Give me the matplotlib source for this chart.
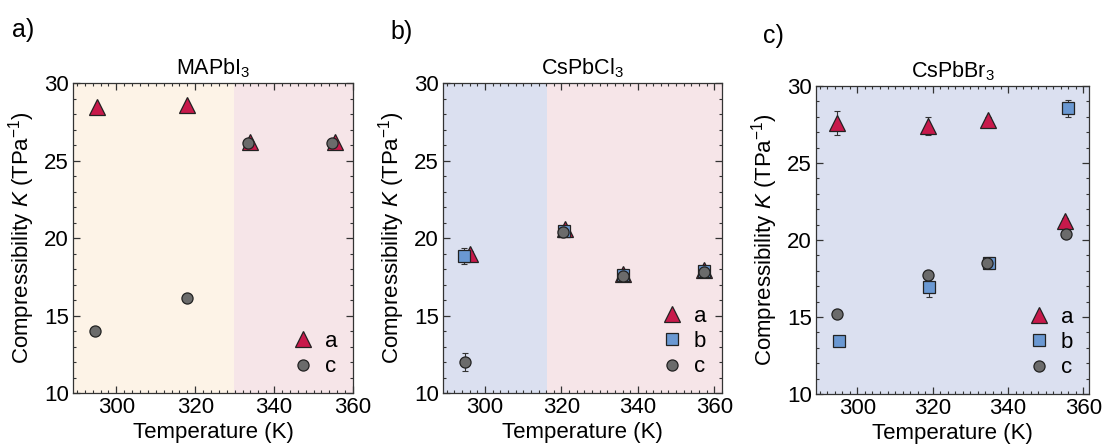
import matplotlib
matplotlib.use("Agg")
import matplotlib.pyplot as plt
from matplotlib.ticker import MultipleLocator

plt.rcParams['font.family'] = ['Liberation Sans', 'DejaVu Sans']
plt.rcParams['mathtext.fontset'] = 'custom'
plt.rcParams['mathtext.rm'] = 'Liberation Sans'
plt.rcParams['mathtext.it'] = 'Liberation Sans:italic'

# ---- data ----
titles = [r'MAPbI$_3$', r'CsPbCl$_3$', r'CsPbBr$_3$']
panel_tags = ['a)', 'b)', 'c)']

# MAPbI3
mapi_T_a = [295.0, 318.0, 334.0, 355.5]
mapi_K_a = [28.45, 28.55, 26.2, 26.2]
mapi_e_a = [0.1, 0.1, 0.1, 0.1]
mapi_T_c = [294.5, 318.0, 333.3, 354.8]
mapi_K_c = [14.0, 16.1, 26.15, 26.15]
mapi_e_c = [0.1, 0.1, 0.1, 0.1]

# CsPbCl3
cscl_T_a = [296.0, 320.8, 336.2, 357.3]
cscl_K_a = [18.95, 20.55, 17.7, 17.95]
cscl_e_a = [0.2, 0.2, 0.2, 0.2]
cscl_T_b = [294.5, 320.6, 336.0, 357.2]
cscl_K_b = [18.85, 20.45, 17.6, 17.85]
cscl_e_b = [0.5, 0.2, 0.2, 0.2]
cscl_T_c = [294.7, 320.5, 336.0, 357.2]
cscl_K_c = [12.0, 20.4, 17.57, 17.8]
cscl_e_c = [0.55, 0.2, 0.2, 0.2]

# CsPbBr3
csbr_T_a = [294.7, 318.8, 334.6, 355.2]
csbr_K_a = [27.6, 27.4, 27.8, 21.25]
csbr_e_a = [0.75, 0.6, 0.2, 0.2]
csbr_T_b = [295.0, 319.1, 334.9, 355.9]
csbr_K_b = [13.45, 16.97, 18.5, 28.55]
csbr_e_b = [0.1, 0.65, 0.4, 0.56]
csbr_T_c = [294.5, 318.7, 334.4, 355.5]
csbr_K_c = [15.18, 17.7, 18.5, 20.4]
csbr_e_c = [0.1, 0.3, 0.2, 0.3]

# phase regions (start, end, colour)
regions = [
    [(289, 329.7, '#fdf3e7'), (329.7, 360, '#f6e5e8')],
    [(289, 316.2, '#dbe0f0'), (316.2, 362, '#f6e5e8')],
    [(289, 362, '#dbe0f0')],
]
xlims = [(289, 360), (289, 362), (289, 361.5)]

series = [
    [('a', mapi_T_a, mapi_K_a, mapi_e_a), ('c', mapi_T_c, mapi_K_c, mapi_e_c)],
    [('a', cscl_T_a, cscl_K_a, cscl_e_a), ('b', cscl_T_b, cscl_K_b, cscl_e_b),
     ('c', cscl_T_c, cscl_K_c, cscl_e_c)],
    [('a', csbr_T_a, csbr_K_a, csbr_e_a), ('b', csbr_T_b, csbr_K_b, csbr_e_b),
     ('c', csbr_T_c, csbr_K_c, csbr_e_c)],
]

style = {
    'a': dict(marker='^', color='#c8194b', ms=12),
    'b': dict(marker='s', color='#6a98d2', ms=8.5),
    'c': dict(marker='o', color='#6b6b6b', ms=8),
}

fig = plt.figure(figsize=(11.02, 4.48), dpi=100)
rects = [
    [73 / 1102, 1 - 393 / 448, 280 / 1102, 310 / 448],
    [443 / 1102, 1 - 393 / 448, 279 / 1102, 310 / 448],
    [816 / 1102, 1 - 394 / 448, 273 / 1102, 308 / 448],
]
tag_pos = [(12 / 1102, 1 - 30 / 448), (390 / 1102, 1 - 32 / 448), (763 / 1102, 1 - 36 / 448)]

for i in range(3):
    ax = fig.add_axes(rects[i])
    for x0, x1, col in regions[i]:
        ax.axvspan(x0, x1, color=col, lw=0, zorder=0)
    for name, T, K, e in series[i]:
        st = style[name]
        ax.errorbar(T, K, yerr=e, fmt='none', ecolor='#333333', elinewidth=0.8,
                    capsize=2, capthick=0.8, zorder=2)
        ax.plot(T, K, ls='none', marker=st['marker'], ms=st['ms'],
                mfc=st['color'], mec='#222222', mew=0.9, label=name, zorder=3)
    ax.set_xlim(*xlims[i])
    ax.set_ylim(10, 30)
    ax.xaxis.set_major_locator(MultipleLocator(20))
    ax.xaxis.set_minor_locator(MultipleLocator(2))
    ax.yaxis.set_major_locator(MultipleLocator(5))
    ax.yaxis.set_minor_locator(MultipleLocator(1))
    ax.tick_params(which='both', direction='in', top=True, right=True,
                   colors='#333333', labelcolor='black', labelsize=16)
    ax.tick_params(which='major', length=5, width=0.9, pad=3)
    ax.tick_params(which='minor', length=2.5, width=0.8)
    for sp in ax.spines.values():
        sp.set_color('#333333')
        sp.set_linewidth(0.9)
    ax.set_xlabel('Temperature (K)', fontsize=16, labelpad=3)
    ax.set_ylabel(r'Compressibility $K$ (TPa$^{-1}$)', fontsize=16, labelpad=5)
    ax.set_title(titles[i], fontsize=15.5, pad=6)
    ax.legend(loc='lower right', frameon=False, fontsize=16, handletextpad=0.4,
              labelspacing=0.2, borderaxespad=0.3, handlelength=1.2)
    fig.text(tag_pos[i][0], tag_pos[i][1], panel_tags[i], fontsize=18, va='center')

fig.savefig('out.png', dpi=100)
